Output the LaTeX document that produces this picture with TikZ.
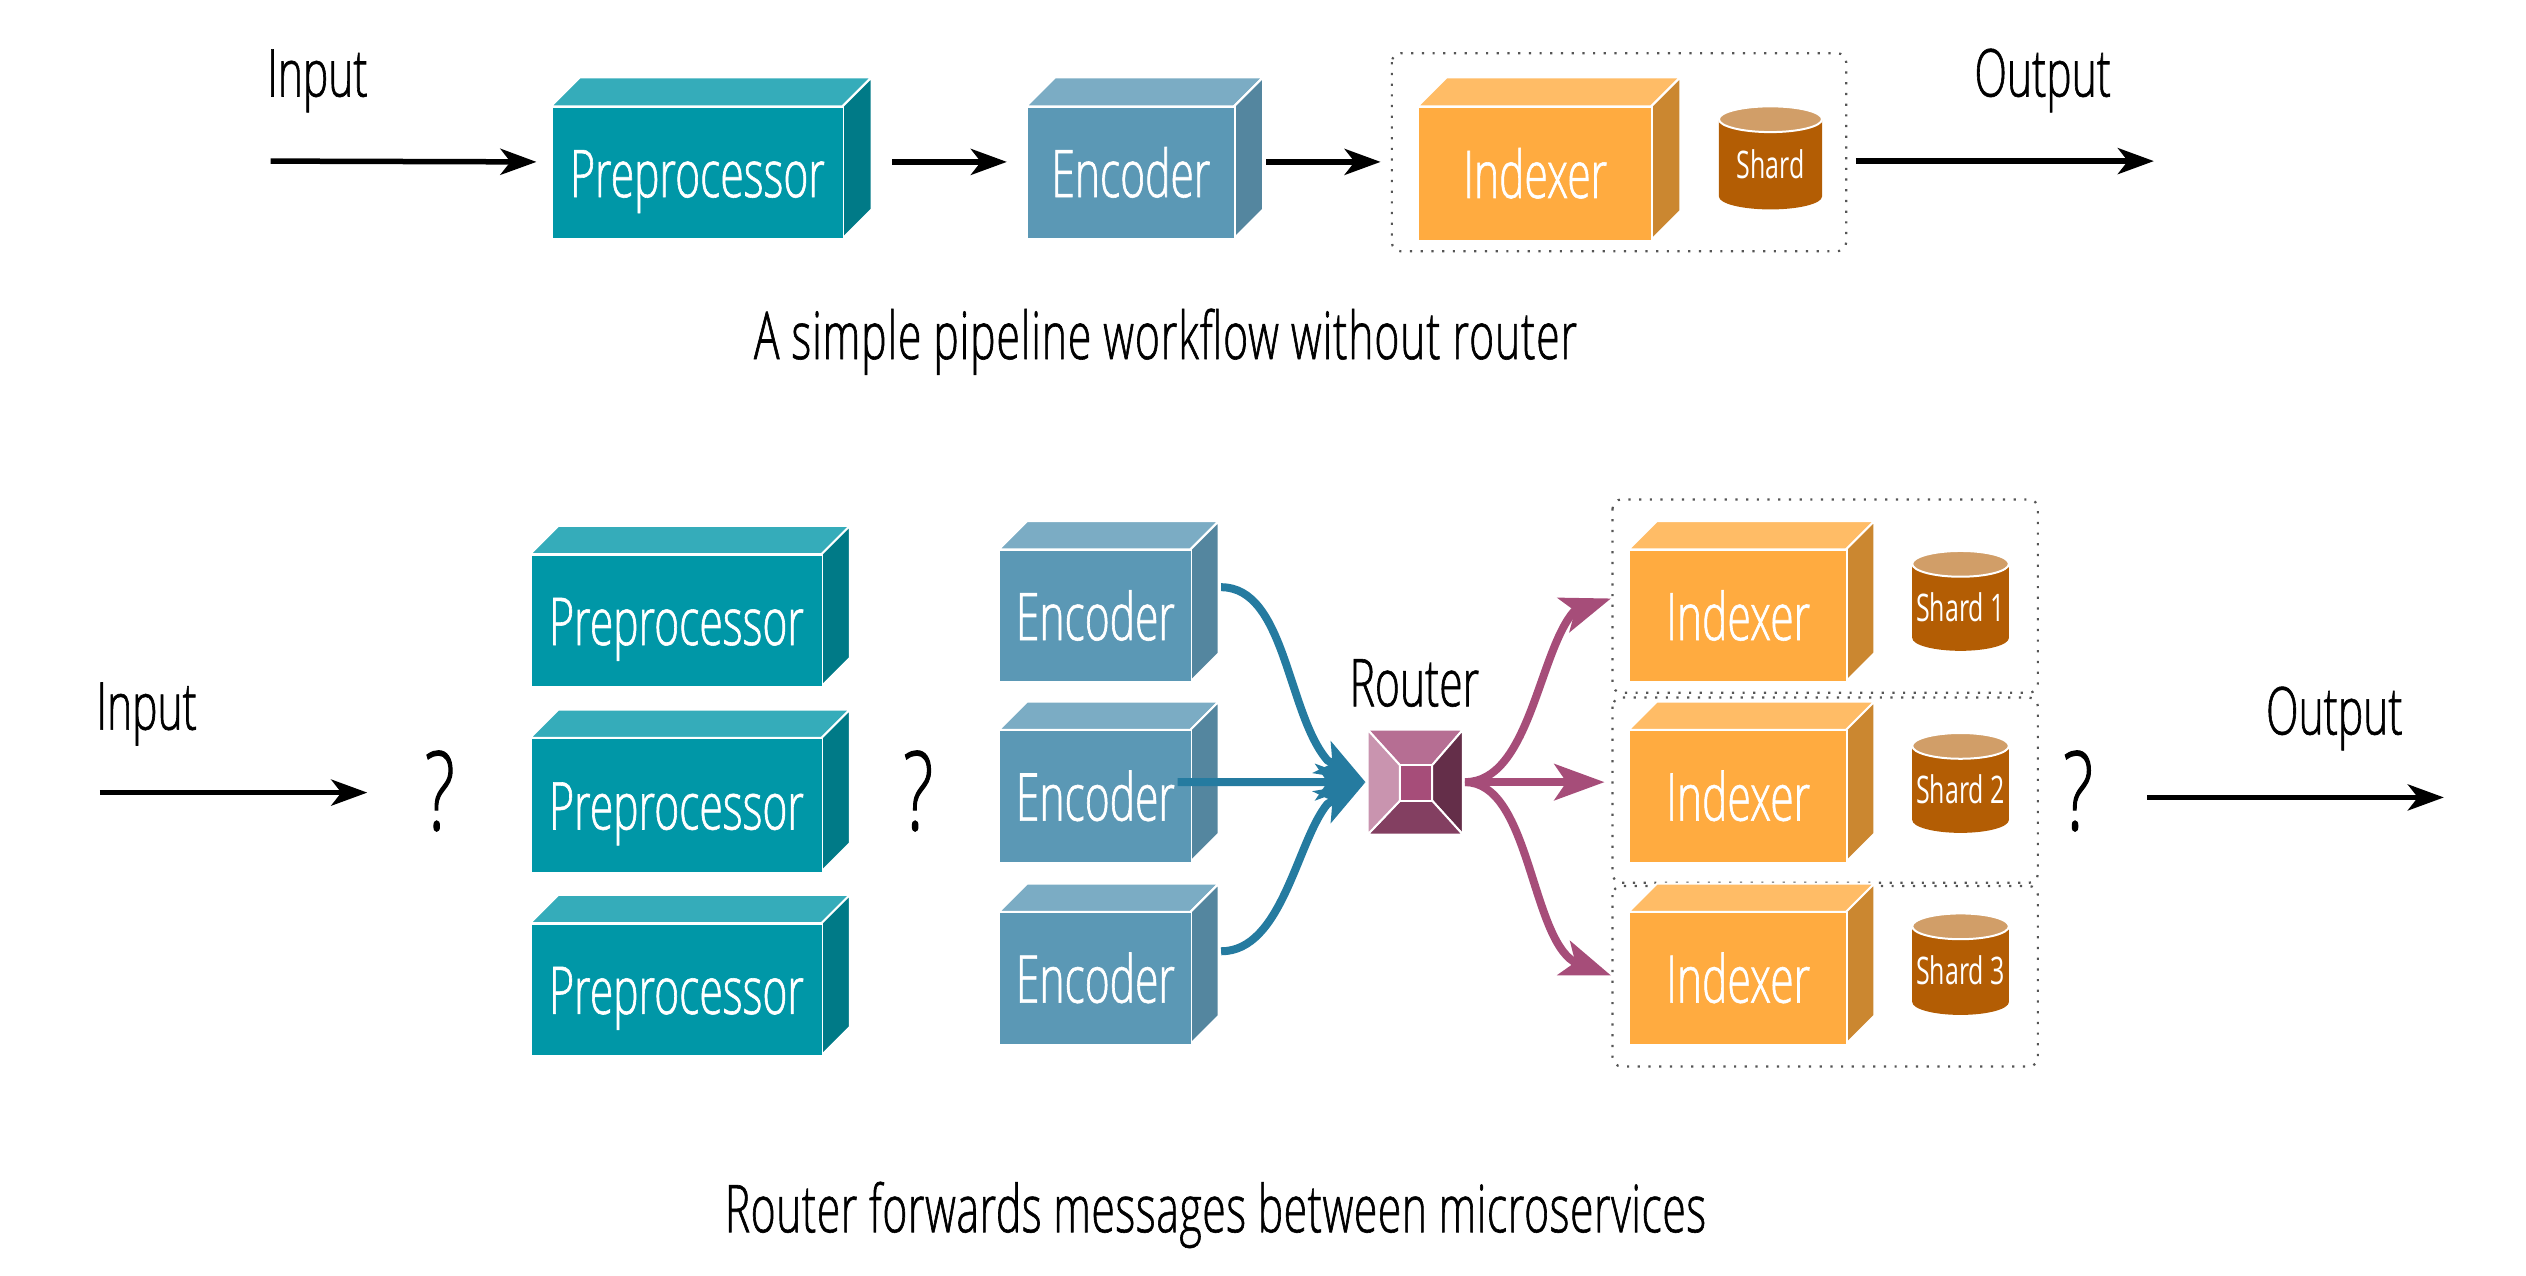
\documentclass[tikz,border=0pt]{standalone}
\usepackage{fontspec}
\setmainfont{Open Sans Light}[FakeStretch=0.645,FakeBold=0.9]
\newfontfamily\shardfont{Open Sans}[FakeStretch=0.657]
\usetikzlibrary{arrows.meta,bending}
\definecolor{pF}{HTML}{0097A7}\definecolor{pT}{HTML}{35ACBA}\definecolor{pS}{HTML}{007A87}
\definecolor{eF}{HTML}{5B98B5}\definecolor{eT}{HTML}{7BACC4}\definecolor{eS}{HTML}{54869F}
\definecolor{iF}{HTML}{FFAB40}\definecolor{iT}{HTML}{FFBC66}\definecolor{iS}{HTML}{CB8730}
\definecolor{cB}{HTML}{B35D04}\definecolor{cT}{HTML}{D19E68}
\definecolor{rC}{HTML}{A64D79}\definecolor{rT}{HTML}{B66E93}\definecolor{rL}{HTML}{C994AF}
\definecolor{rR}{HTML}{642E49}\definecolor{rB}{HTML}{833F61}
\definecolor{blueflow}{HTML}{257BA0}\definecolor{dotgrey}{HTML}{555555}
\tikzset{
  x=1.61097pt,y=-1.61097pt,
  bigtext/.style={inner sep=0pt,text height=60pt,text depth=12pt,font=\fontsize{66}{72}\selectfont},
  front/.style={bigtext,anchor=north west,text=white},
  face/.style={draw=white,line width=2pt,line join=miter},
  lab/.style={bigtext,text=black},
  qmark/.style={inner sep=0pt,text=black,font=\fontsize{110}{120}\selectfont},
  captext/.style={bigtext,text=black},
  shardlab/.style={inner sep=0pt,text=white,font=\shardfont\fontsize{38}{42}\selectfont},
  flow/.style={line width=5.5pt,-{Stealth[length=36pt,width=26pt,inset=10pt]}},
  bflow/.style={line width=8pt,draw=blueflow,line join=round,-{Stealth[length=50pt,width=36pt,inset=12pt]}},
  mflow/.style={line width=8pt,draw=rC,line join=round,-{Stealth[length=50pt,width=36pt,inset=12pt]}},
  group/.style={draw=dotgrey,line width=2.2pt,rounded corners=9pt,dash pattern=on 2.2pt off 8.5pt},
}
% name, x0, y0, x1, y1, depth, colour prefix, text
\newcommand{\cuboid}[8]{%
  \fill[#7T,face] (#2,#3) -- ++(#6,-#6) -- (#4+#6,#3-#6) -- (#4,#3) -- cycle;
  \fill[#7S,face] (#4,#3) -- (#4+#6,#3-#6) -- (#4+#6,#5-#6) -- (#4,#5) -- cycle;
  \node[front,fill=#7F,draw=white,line width=1.6pt,minimum width={(#4-#2)*1.61097pt},minimum height={(#5-#3)*1.61097pt}] (#1) at (#2,#3) {#8};
}
% name, x0, y0, x1, y1, text
\newcommand{\shard}[6]{%
  \fill[cB] (#2,#3+8) -- (#4,#3+8) -- (#4,#5-8) arc[start angle=0,end angle=-180,x radius={(#4-#2)/2*1.61097pt},y radius=8*1.61097pt] -- cycle;
  \fill[cT,draw=white,line width=2pt] ({(#2+#4)/2},#3+8) ellipse [x radius={(#4-#2)/2*1.61097pt},y radius=8*1.61097pt];
  \node[shardlab] (#1) at ({(#2+#4)/2},{(#3+#5)/2+4}) {#6};
}
\begin{document}
\begin{tikzpicture}
\useasboundingbox (0,0) rectangle (1568,792);
% ---- top pipeline
\draw[group] (864,33) rectangle (1146,156);
\cuboid{pre}{342}{66}{523}{148}{18}{p}{Preprocessor}
\cuboid{enc}{637}{66}{766}{148}{18}{e}{Encoder}
\cuboid{idx}{880}{66}{1025}{149}{18}{i}{Indexer}
\shard{sh}{1067}{66}{1131}{130}{Shard}
\node[lab] (tinlab) at (197,45) {Input};
\node[lab] (toutlab) at (1268,45) {Output};
\node[captext] (tcap) at (723.5,208) {\addfontfeature{LetterSpace=1.4}A simple pipeline workflow without router};
\coordinate (tin) at (168,100);
\coordinate (tout) at (1337,100);
\coordinate (tgrp) at (1152,100);
\draw[flow] (tin) -- ([shift={(-9,-7)}]pre.west);
\draw[flow] ([shift={(30,-7)}]pre.east) -- ([shift={(-12,-7)}]enc.west);
\draw[flow] ([shift={(19,-7)}]enc.east) -- ([shift={(-23,-7.5)}]idx.west);
\draw[flow] (tgrp) -- (tout);
% ---- bottom groups
\draw[group] (1001,310) rectangle (1265,430);
\draw[group] (1001,433) rectangle (1265,548);
\draw[group] (1001,550) rectangle (1265,662);
\cuboid{p1}{329}{344}{510}{426}{17.5}{p}{Preprocessor}
\cuboid{p2}{329}{458}{510}{541}{17.5}{p}{Preprocessor}
\cuboid{p3}{329}{573}{510}{655}{17.5}{p}{Preprocessor}
\cuboid{e1}{620}{341}{739}{423}{17.5}{e}{Encoder}
\cuboid{e2}{620}{453}{739}{535}{17.5}{e}{Encoder}
\cuboid{e3}{620}{566}{739}{648}{17.5}{e}{Encoder}
\cuboid{i1}{1011}{341}{1146}{423}{17.5}{i}{Indexer}
\cuboid{i2}{1011}{453}{1146}{535}{17.5}{i}{Indexer}
\cuboid{i3}{1011}{566}{1146}{648}{17.5}{i}{Indexer}
\shard{s1}{1187}{342}{1247}{404}{Shard 1}
\shard{s2}{1187}{455}{1247}{517}{Shard 2}
\shard{s3}{1187}{567}{1247}{630}{Shard 3}
% router
\node[inner sep=0pt,minimum width={59*1.61097pt},minimum height={65*1.61097pt}] (router) at (878.5,485.5) {};
\coordinate (rin1) at (869,475);\coordinate (rin2) at (889,475);\coordinate (rin3) at (889,497);\coordinate (rin4) at (869,497);
\fill[rT,face] (router.north west) -- (router.north east) -- (rin2) -- (rin1) -- cycle;
\fill[rR,face] (router.north east) -- (router.south east) -- (rin3) -- (rin2) -- cycle;
\fill[rB,face] (router.south east) -- (router.south west) -- (rin4) -- (rin3) -- cycle;
\fill[rL,face] (router.south west) -- (router.north west) -- (rin1) -- (rin4) -- cycle;
\fill[rC,face] (rin1) -- (rin2) -- (rin3) -- (rin4) -- cycle;
\node[lab] (rlab) at (878,423.5) {Router};
% labels
\node[lab] (binlab) at (91,438) {Input};
\node[lab] (boutlab) at (1449,441) {Output};
\node[qmark] (q1) at (273,491) {?};
\node[qmark] (q2) at (570,491) {?};
\node[qmark] (q3) at (1290,491) {?};
\node[captext] (bcap) at (754.5,750) {\addfontfeature{LetterSpace=0.9}Router forwards messages between microservices};
\coordinate (bin) at (62,492);\coordinate (bq) at (228,492);
\coordinate (bo1) at (1333,495);\coordinate (bo2) at (1517,495);
\draw[flow] (bin) -- (bq);
\draw[flow] (bo1) -- (bo2);
% flows
\draw[bflow] ([shift={(18,-18)}]e1.east) .. controls +(40,0) and (799,443) .. (824,472) -- ([xshift=-2pt]router.west);
\draw[bflow] ([shift={(-9,-9)}]e2.east) -- ([xshift=-2pt]router.west);
\draw[bflow] ([shift={(18,-17)}]e3.east) .. controls +(38,0) and (805,522) .. (824,499) -- ([xshift=-2pt]router.west);
\draw[mflow] ([xshift=2pt]router.east) .. controls +(40,0) and (955,405) .. (977,379.5) -- (1000,371.5);
\draw[mflow] ([xshift=2pt]router.east) -- (996,485.5);
\draw[mflow] ([xshift=2pt]router.east) .. controls +(40,0) and (950,580) .. (977,597) -- (1000,605.5);
\end{tikzpicture}
\end{document}
